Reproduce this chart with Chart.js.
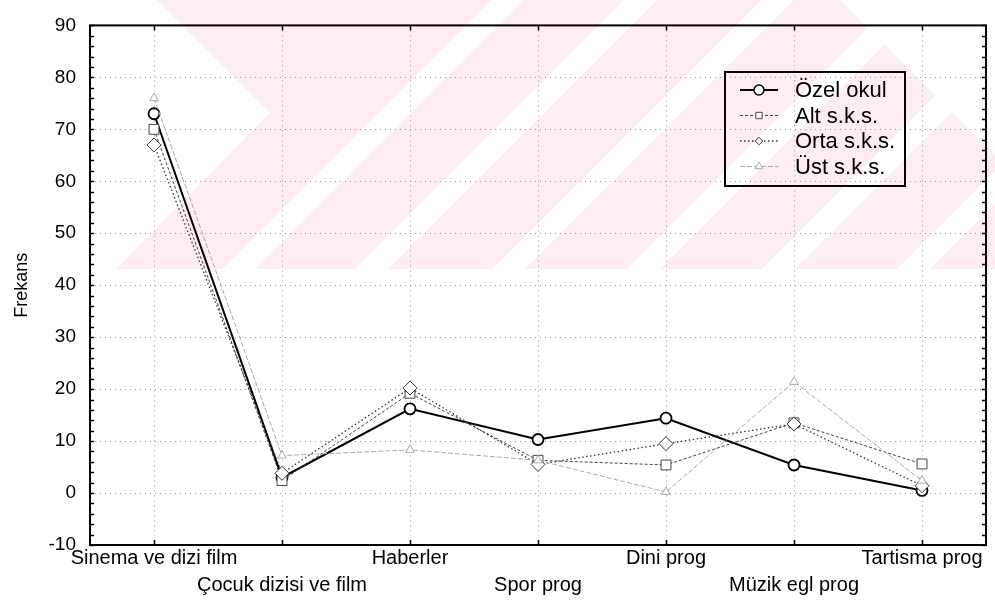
<!DOCTYPE html>
<html>
<head>
<meta charset="utf-8">
<script src="https://cdn.jsdelivr.net/npm/chart.js@4/dist/chart.umd.min.js"></script>
<style>
html,body{margin:0;padding:0;background:#fff;}
#wrap{width:995px;height:606px;position:relative;}
</style>
</head>
<body>
<div id="wrap"><canvas id="c" width="995" height="606"></canvas></div>
<script>
// ---- data ----
const categories = ['Sinema ve dizi film','Çocuk dizisi ve film','Haberler','Spor prog','Dini prog','Müzik egl prog','Tartisma prog'];
const seriesNames = ['Özel okul','Alt s.k.s.','Orta s.k.s.','Üst s.k.s.'];
const ozelOkul = [73, 3, 16.2, 10.3, 14.4, 5.4, 0.5];
const altSks   = [70, 2.4, 19.2, 6.3, 5.4, 13.5, 5.6];
const ortaSks  = [67, 3.8, 20.2, 5.5, 9.5, 13.3, 1.4];
const ustSks   = [76, 7.2, 8.3, 6.3, 0.2, 21.4, 2.4];
const yTicks = [-10, 0, 10, 20, 30, 40, 50, 60, 70, 80, 90];

const FONT = "'Liberation Sans', Arial, sans-serif";

const styles = [
  {color:'#000', width:2, dash:[], point:'circle', r:5.5},
  {color:'#444', width:1, dash:[3,2], point:'rect', r:7},
  {color:'#333', width:1.3, dash:[1.5,2.5], point:'rectRot', r:7},
  {color:'#aaa', width:1, dash:[5,2], point:'triangle', r:5}
];

const dataArrays = [ozelOkul, altSks, ortaSks, ustSks];

const watermark = {
  id:'watermark',
  beforeDraw(chart){
    const ctx = chart.ctx;
    ctx.save();
    ctx.fillStyle = '#fff';
    ctx.fillRect(0,0,chart.width,chart.height);
    ctx.beginPath();
    ctx.moveTo(157,0); ctx.lineTo(840,0); ctx.lineTo(995,155); ctx.lineTo(995,269);
    ctx.lineTo(116,269); ctx.lineTo(270,113); ctx.closePath();
    ctx.clip();
    ctx.fillStyle = '#fdedf0';
    ctx.fillRect(0,0,995,270);
    ctx.fillStyle = '#fff';
    [507,640,777,912,1047,1182].forEach(c=>{
      ctx.beginPath();
      ctx.moveTo(c-16,0); ctx.lineTo(c+17,0); ctx.lineTo(c+17-270,270); ctx.lineTo(c-16-270,270);
      ctx.closePath(); ctx.fill();
    });
    ctx.restore();
  }
};

function marker(ctx, style, x, y, r){
  ctx.beginPath();
  if (style==='circle'){ ctx.arc(x,y,r,0,Math.PI*2); }
  else if (style==='rect'){ const s=r*Math.SQRT1_2; ctx.rect(x-s,y-s,2*s,2*s); }
  else if (style==='rectRot'){ const s=r*Math.SQRT1_2*1.2; ctx.moveTo(x,y-s); ctx.lineTo(x+s,y); ctx.lineTo(x,y+s); ctx.lineTo(x-s,y); ctx.closePath(); }
  else if (style==='triangle'){ ctx.moveTo(x,y-r); ctx.lineTo(x+r*0.87,y+r*0.5); ctx.lineTo(x-r*0.87,y+r*0.5); ctx.closePath(); }
  ctx.fillStyle='#fff'; ctx.fill(); ctx.stroke();
}

const frame = {
  id:'frame',
  afterDraw(chart){
    const {ctx, chartArea:{left,right,top,bottom}, scales:{x,y}} = chart;
    ctx.save();
    ctx.strokeStyle='#000'; ctx.lineWidth=2; ctx.setLineDash([]);
    ctx.strokeRect(left,top,right-left,bottom-top);
    ctx.lineWidth=1.5;
    ctx.beginPath();
    for (let v=y.min; v<=y.max+0.001; v+=2){
      const py = Math.round(y.getPixelForValue(v))+0.5;
      ctx.moveTo(left,py); ctx.lineTo(left+4,py);
      ctx.moveTo(right,py); ctx.lineTo(right-4,py);
    }
    for (let i=0;i<categories.length;i++){
      const px = Math.round(x.getPixelForValue(i))+0.5;
      ctx.moveTo(px,top); ctx.lineTo(px,top+5);
      ctx.moveTo(px,bottom); ctx.lineTo(px,bottom-5);
    }
    ctx.stroke();
    // legend
    const lx=725, ly=72, lw=180, lh=114;
    ctx.lineWidth=2; ctx.strokeStyle='#000';
    ctx.strokeRect(lx,ly,lw,lh);
    ctx.font = "22px " + FONT;
    ctx.textBaseline='middle'; ctx.textAlign='left';
    seriesNames.forEach((name,i)=>{
      const st = styles[i];
      const yy = 90 + i*25.5;
      ctx.strokeStyle = st.color; ctx.lineWidth = st.width; ctx.setLineDash(st.dash);
      ctx.beginPath(); ctx.moveTo(740,yy); ctx.lineTo(778,yy); ctx.stroke();
      ctx.setLineDash([]);
      ctx.lineWidth = st.width>1.5?1.5:1;
      marker(ctx, st.point, 759, yy, i===0?5:4.5);
      ctx.fillStyle='#000';
      ctx.fillText(name, 795, yy+1);
    });
    ctx.restore();
  }
};

const datasets = dataArrays.map((arr,i)=>({
  label: seriesNames[i],
  data: arr,
  borderColor: styles[i].color,
  borderWidth: styles[i].width,
  borderDash: styles[i].dash,
  pointStyle: styles[i].point,
  pointRadius: styles[i].r,
  pointBorderColor: styles[i].color,
  pointBorderWidth: i===0?1.8:1,
  pointBackgroundColor: '#fff',
  tension: 0,
  fill: false
})).reverse();

new Chart(document.getElementById('c'), {
  type:'line',
  data:{labels:categories, datasets},
  plugins:[watermark, frame],
  options:{
    responsive:false,
    animation:false,
    layout:{padding:{top:18,right:9,left:0,bottom:0}},
    plugins:{legend:{display:false}, tooltip:{enabled:false}},
    scales:{
      x:{
        type:'category',
        offset:true,
        grid:{offset:false, color:'#9a9a9a', lineWidth:1, drawTicks:false},
        border:{display:false, dash:[1,4]},
        ticks:{
          autoSkip:false, maxRotation:0, minRotation:0,
          color:'#000', padding:0,
          font:{family:FONT, size:20, lineHeight:1.35},
          callback:(v,i)=> i%2===0 ? categories[i] : ['', categories[i]]
        },
        afterFit:(s)=>{ s.height = 61; }
      },
      y:{
        min:yTicks[0], max:yTicks[yTicks.length-1],
        afterBuildTicks:(s)=>{ s.ticks = yTicks.map(v=>({value:v})); },
        grid:{color:'#9a9a9a', lineWidth:1, drawTicks:false},
        border:{display:false, dash:[1,4]},
        ticks:{color:'#000', padding:14, font:{family:FONT, size:19}},
        title:{display:true, text:'Frekans', color:'#000', font:{family:FONT, size:18}, padding:{top:11,bottom:0}},
        afterFit:(s)=>{ s.width = 90; }
      }
    }
  }
});
</script>
</body>
</html>
